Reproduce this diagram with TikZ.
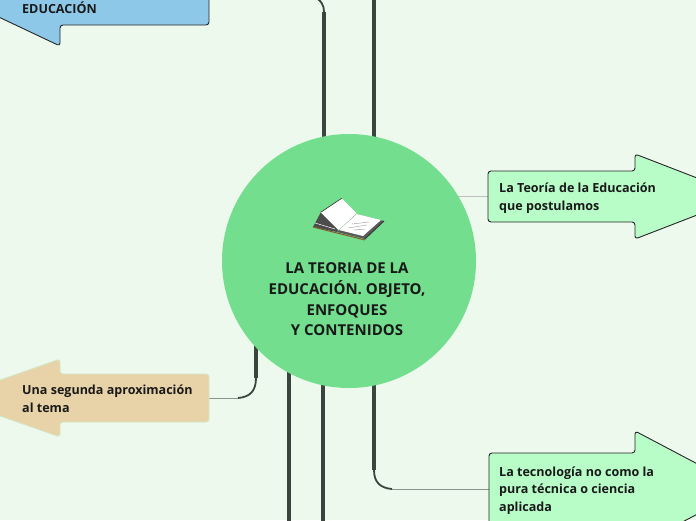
\documentclass[tikz,border=0pt]{standalone}
\usepackage{fontspec}
\setmainfont{Open Sans}
\definecolor{paper}{HTML}{EEF9EE}
\definecolor{hubgreen}{HTML}{72DE8E}
\definecolor{leafgreen}{HTML}{B8FCC8}
\definecolor{skyblue}{HTML}{8EC8E8}
\definecolor{sand}{HTML}{E8D3A8}
\definecolor{sandedge}{HTML}{D5E6C6}
\definecolor{trunkgrey}{HTML}{3A463D}
\definecolor{twiggrey}{HTML}{8C958C}
\tikzset{
	trunk/.style={draw=trunkgrey, line width=3.2pt},
	elbow/.style={draw=trunkgrey, line width=1.8pt},
	twig/.style={draw=twiggrey, line width=1pt},
	arrowbox/.style={draw=black!85, line width=0.9pt, rounded corners=3pt, line join=round},
	leaf/.style={font=\bfseries\fontsize{12.55}{17.6}\selectfont, text=black!90, align=left, anchor=west, inner sep=0pt},
}

\begin{document}
\begin{tikzpicture}[x=1pt,y=-1pt]
	\path[use as bounding box, clip] (0,0) rectangle (696,520);
	\fill[paper] (0,0) rectangle (696,520);
	\coordinate (hub) at (349,261);
	\coordinate (toptrunk) at (324,12);
	\coordinate (topfree) at (311,-6);
	\coordinate (rightup) at (374,-5);
	\coordinate (rightdown) at (374,470);
	\coordinate (leftdown) at (289,525);
	\coordinate (leftstart) at (289,300);
	\coordinate (middown) at (323,525);
	\coordinate (midstart) at (323,300);
	\coordinate (sandbend) at (256,378);
	\coordinate (sandstart) at (256,300);
	\coordinate (teoriain) at (489,196.5);
	\coordinate (teoriaout) at (440,196.5);
	\coordinate (tecnoin) at (489,489);
	\coordinate (sandin) at (209,398);
	\draw[trunk] (toptrunk) -- (hub -| toptrunk);
	\draw[elbow] (toptrunk) .. controls (324,5) and (322,1) .. (topfree);
	\draw[trunk] (rightup) -- (rightdown);
	\draw[trunk] (leftstart) -- (leftdown);
	\draw[trunk] (midstart) -- (middown);
	\draw[trunk] (sandstart) -- (sandbend);
	\draw[elbow] (sandbend) .. controls (256,391) and (250,397) .. (238,398);
	\draw[twig] (238,398) -- (sandin);
	\draw[elbow] (rightdown) .. controls (374,482) and (380,488) .. (392,489);
	\draw[twig] (392,489) -- (tecnoin);
	\draw[twig, draw=black!25] (teoriaout) -- (teoriain);
	\draw[arrowbox, fill=skyblue] (209,-37) -- (209,25) -- (60,25) -- (60,46) -- (-50,-6) -- (60,-57) -- (60,-37) -- cycle;
	\draw[arrowbox, fill=leafgreen] (488,171) -- (635,171) -- (635,154) -- (745,196.5) -- (635,239) -- (635,222) -- (488,222) -- cycle;
	\draw[arrowbox, fill=leafgreen] (489,453) -- (635,453) -- (635,431) -- (745,489) -- (635,547) -- (635,525) -- (489,525) -- cycle;
	\draw[arrowbox, draw=sandedge, fill=sand] (209,374) -- (209,422) -- (60,422) -- (60,437) -- (-51,398) -- (60,359) -- (60,374) -- cycle;
	\node[circle, fill=hubgreen, minimum size=254pt, inner sep=0pt] (centre) at (hub) {};
	\fill[black!70] (313,227) -- (321,212) -- (339,228) -- (337,232) -- cycle;
	\fill[black!65] (337,232) -- (356,214) -- (384,221) -- (365,239) -- cycle;
	\draw[brown!70!black, line width=1pt] (313,227) -- (337,233) -- (365,240);
	\draw[black!80, line width=0.8pt] (365,239) -- (384,221);
	\draw[white, line width=0.5pt] (315,223) -- (335,229);
	\fill[white] (320.7,212.3) -- (341.7,198.3) -- (356.7,213.3) -- (338.3,230) -- cycle;
	\fill[white] (339,230) -- (356.7,214) -- (381,220) -- (363,236) -- cycle;
	\draw[black!35, line width=0.5pt] (352,224) -- (369,222);
	\draw[black!35, line width=0.5pt] (348,228) -- (367,225);
	\draw[black!35, line width=0.5pt] (354,230) -- (365,229);
	\draw[black!80, line width=0.6pt] (320.7,212.3) -- (341.7,198.3);
	\node[font=\bfseries\fontsize{15}{20.6}\selectfont, text=black!90, align=center, inner sep=0pt] (title) at (347,299.5) {LA TEORIA DE LA\\EDUCACIÓN. OBJETO,\\ENFOQUES\\Y CONTENIDOS};
	\node[leaf] (educacion) at (22,7.5) {EDUCACIÓN};
	\node[leaf] (teoria) at (499,198) {La Teoría de la Educación\\que postulamos};
	\node[leaf] (segunda) at (22,398.7) {Una segunda aproximación\\al tema};
	\node[leaf] (tecno) at (499,490.5) {La tecnología no como la\\pura técnica o ciencia\\aplicada};
\end{tikzpicture}
\end{document}
